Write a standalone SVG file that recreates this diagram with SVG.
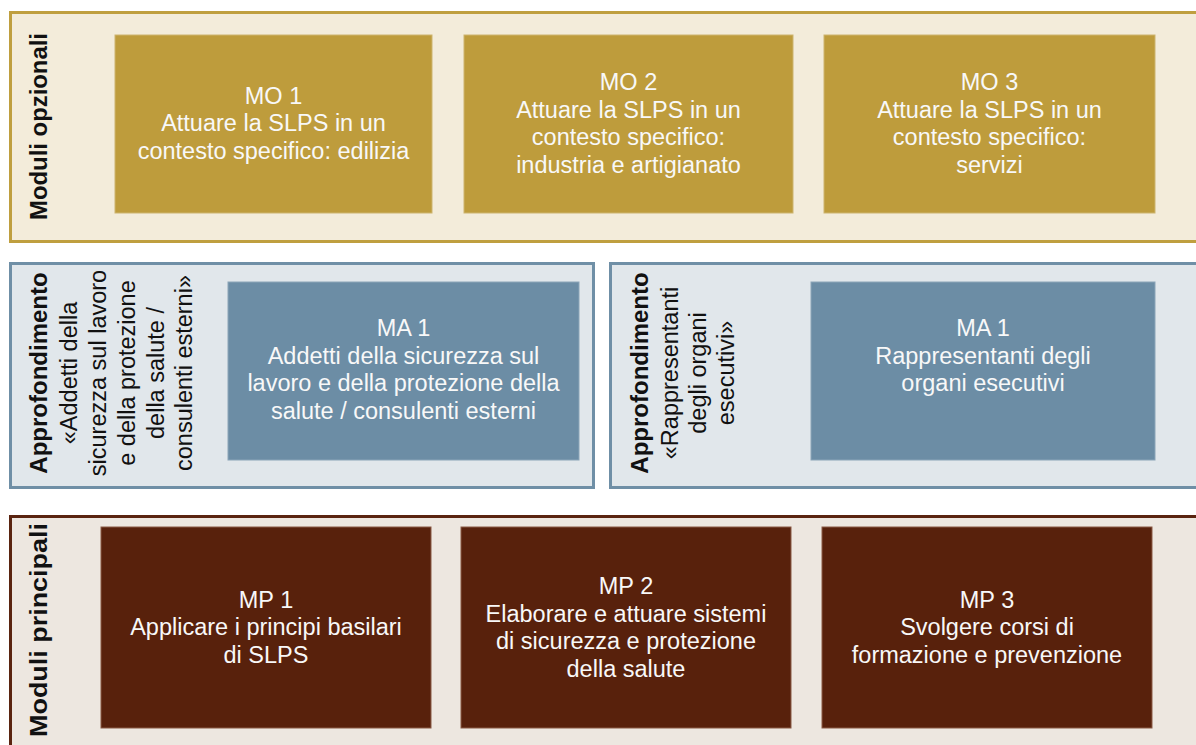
<svg xmlns="http://www.w3.org/2000/svg" width="1196" height="745" viewBox="0 0 1196 745">
  <style>
    .t { font-family: "Liberation Sans", Arial, sans-serif; font-size: 23.5px; fill: #F8F8F8; text-anchor: middle; }
    .v { font-family: "Liberation Sans", Arial, sans-serif; font-size: 23.5px; fill: #111111; text-anchor: middle; }
    .vb { font-family: "Liberation Sans", Arial, sans-serif; font-size: 24px; font-weight: bold; fill: #111111; text-anchor: middle; }
    .pO { fill: #F3ECDA; stroke: #BF9F3F; stroke-width: 3; }
    .pA { fill: #E1E7EB; stroke: #6F8FA6; stroke-width: 3; }
    .pP { fill: #EDE7E0; stroke: #5A2410; stroke-width: 3; }
    .bO { fill: #BE9C3C; stroke: #CDB46E; stroke-width: 1; }
    .bA { fill: #6C8DA5; stroke: #8BA5B8; stroke-width: 1; }
    .bP { fill: #58210C; stroke: #8A5A44; stroke-width: 1; }
  </style>
  <rect width="1196" height="745" fill="#FFFFFF"/>

  <g id="connectors"></g>

  <!-- Top panel: optional modules -->
  <g id="panel-opzionali">
    <rect class="pO" x="10.5" y="12.5" width="1200" height="229"/>
    <text class="vb" transform="translate(47,126.5) rotate(-90)" textLength="187" lengthAdjust="spacingAndGlyphs">Moduli opzionali</text>
  </g>
  <g id="MO1">
    <rect class="bO" x="115" y="35" width="317" height="178"/>
    <text class="t" x="273.5" y="103.5">MO 1</text>
    <text class="t" x="273.5" y="131">Attuare la SLPS in un</text>
    <text class="t" x="273.5" y="158.5">contesto specifico: edilizia</text>
  </g>
  <g id="MO2">
    <rect class="bO" x="464" y="35" width="329" height="178"/>
    <text class="t" x="628.5" y="90">MO 2</text>
    <text class="t" x="628.5" y="117.5">Attuare la SLPS in un</text>
    <text class="t" x="628.5" y="145">contesto specifico:</text>
    <text class="t" x="628.5" y="172.5">industria e artigianato</text>
  </g>
  <g id="MO3">
    <rect class="bO" x="824" y="35" width="331" height="178"/>
    <text class="t" x="989.5" y="90">MO 3</text>
    <text class="t" x="989.5" y="117.5">Attuare la SLPS in un</text>
    <text class="t" x="989.5" y="145">contesto specifico:</text>
    <text class="t" x="989.5" y="172.5">servizi</text>
  </g>

  <!-- Middle panels: in-depth modules -->
  <g id="panel-approfondimento-addetti">
    <rect class="pA" x="10.5" y="263.5" width="583" height="224"/>
    <text class="vb" transform="translate(47,373) rotate(-90)">Approfondimento</text>
    <text class="v" transform="translate(77,373) rotate(-90)">«Addetti della</text>
    <text class="v" transform="translate(106,373) rotate(-90)">sicurezza sul lavoro</text>
    <text class="v" transform="translate(135,373) rotate(-90)">e della protezione</text>
    <text class="v" transform="translate(163.5,373) rotate(-90)">della salute /</text>
    <text class="v" transform="translate(192,373) rotate(-90)">consulenti esterni»</text>
  </g>
  <g id="MA1-addetti">
    <rect class="bA" x="228" y="282" width="351" height="178"/>
    <text class="t" x="403.5" y="336">MA 1</text>
    <text class="t" x="403.5" y="363.5">Addetti della sicurezza sul</text>
    <text class="t" x="403.5" y="391">lavoro e della protezione della</text>
    <text class="t" x="403.5" y="418.5">salute / consulenti esterni</text>
  </g>
  <g id="panel-approfondimento-rappresentanti">
    <rect class="pA" x="610.5" y="263.5" width="600" height="224"/>
    <text class="vb" transform="translate(648,373) rotate(-90)">Approfondimento</text>
    <text class="v" transform="translate(678,373) rotate(-90)">«Rappresentanti</text>
    <text class="v" transform="translate(706,373) rotate(-90)">degli organi</text>
    <text class="v" transform="translate(734,373) rotate(-90)">esecutivi»</text>
  </g>
  <g id="MA1-rappresentanti">
    <rect class="bA" x="811" y="282" width="344" height="178"/>
    <text class="t" x="983" y="336">MA 1</text>
    <text class="t" x="983" y="363.5">Rappresentanti degli</text>
    <text class="t" x="983" y="391">organi esecutivi</text>
  </g>

  <!-- Bottom panel: main modules -->
  <g id="panel-principali">
    <rect class="pP" x="10.5" y="516.5" width="1200" height="240"/>
    <text class="vb" transform="translate(47,630) rotate(-90)" textLength="214" lengthAdjust="spacingAndGlyphs">Moduli principali</text>
  </g>
  <g id="MP1">
    <rect class="bP" x="101" y="527" width="330" height="201"/>
    <text class="t" x="266" y="607.5">MP 1</text>
    <text class="t" x="266" y="635">Applicare i principi basilari</text>
    <text class="t" x="266" y="662.5">di SLPS</text>
  </g>
  <g id="MP2">
    <rect class="bP" x="461" y="527" width="330" height="201"/>
    <text class="t" x="626" y="593.5">MP 2</text>
    <text class="t" x="626" y="621.5">Elaborare e attuare sistemi</text>
    <text class="t" x="626" y="649">di sicurezza e protezione</text>
    <text class="t" x="626" y="676.5">della salute</text>
  </g>
  <g id="MP3">
    <rect class="bP" x="822" y="527" width="330" height="201"/>
    <text class="t" x="987" y="607.5">MP 3</text>
    <text class="t" x="987" y="635">Svolgere corsi di</text>
    <text class="t" x="987" y="662.5">formazione e prevenzione</text>
  </g>
</svg>
